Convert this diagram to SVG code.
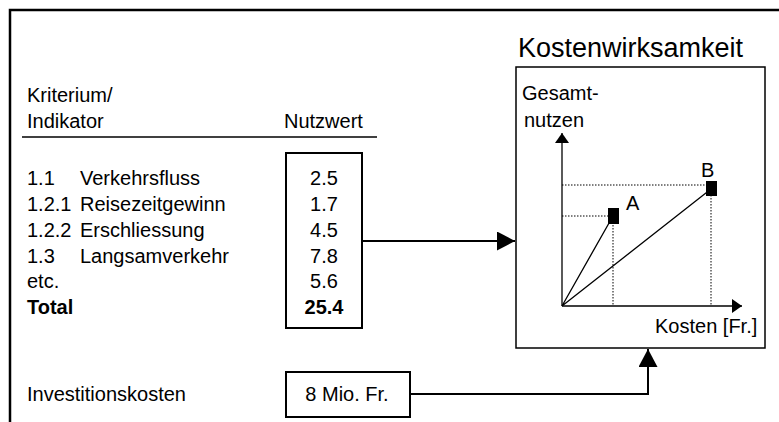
<svg xmlns="http://www.w3.org/2000/svg" width="779" height="422" viewBox="0 0 779 422">
<style>
text{font-family:"Liberation Sans",Arial,sans-serif;font-size:20px;fill:#000}
.b{font-weight:bold}
.m{text-anchor:middle}
.box{fill:#fff;stroke:#000;stroke-width:2}
.ln{fill:none;stroke:#000;stroke-width:2}
.thin{fill:none;stroke:#000;stroke-width:1.3}
.dot{fill:none;stroke:#000;stroke-width:1;stroke-dasharray:1.5 1.5}
</style>
<defs>
<marker id="ah" viewBox="0 0 18 19" refX="18" refY="9.5" markerWidth="18" markerHeight="19" markerUnits="userSpaceOnUse" orient="auto">
<path d="M0,0 L18,9.5 L0,19 Z" fill="#000"/>
</marker>
<marker id="sh" viewBox="0 0 10 14" refX="10" refY="7" markerWidth="10" markerHeight="14" markerUnits="userSpaceOnUse" orient="auto">
<path d="M0,0 L10,7 L0,14 Z" fill="#000"/>
</marker>
</defs>
<rect width="779" height="422" fill="#fff"/>
<path d="M10,422 V10 H779" fill="none" stroke="#000" stroke-width="2.5"/>

<g id="header">
<text x="27" y="102">Kriterium/</text>
<text x="27" y="128">Indikator</text>
<text x="284" y="128">Nutzwert</text>
<line x1="22" y1="137" x2="377" y2="137" stroke="#000" stroke-width="1.3"/>
</g>

<g id="criteria">
<text x="27" y="185">1.1</text><text x="80" y="185">Verkehrsfluss</text>
<text x="27" y="211">1.2.1</text><text x="80" y="211">Reisezeitgewinn</text>
<text x="27" y="237">1.2.2</text><text x="80" y="237">Erschliessung</text>
<text x="27" y="263">1.3</text><text x="80" y="263">Langsamverkehr</text>
<text x="27" y="288">etc.</text>
<text x="27" y="314" class="b">Total</text>
</g>

<g id="nutzwert">
<rect class="box" x="286" y="153" width="76" height="175"/>
<text class="m" x="324" y="185">2.5</text>
<text class="m" x="324" y="211">1.7</text>
<text class="m" x="324" y="237">4.5</text>
<text class="m" x="324" y="263">7.8</text>
<text class="m" x="324" y="288">5.6</text>
<text class="m b" x="324" y="314">25.4</text>
</g>

<g id="investition">
<text x="27" y="401">Investitionskosten</text>
<rect class="box" x="286" y="372" width="124" height="45"/>
<text class="m" x="347" y="401">8 Mio. Fr.</text>
</g>

<g id="kostenwirksamkeit">
<text x="518" y="57" style="font-size:27px">Kostenwirksamkeit</text>
<rect x="516" y="67" width="249" height="281" fill="#fff" stroke="#000" stroke-width="1.5"/>
<text x="522" y="100">Gesamt-</text>
<text x="524" y="127">nutzen</text>
<text x="655" y="333">Kosten [Fr.]</text>
<path class="dot" d="M562,216 H613 V306 M562,185 H711 V306"/>
<path class="thin" d="M562,306 V133" marker-end="url(#sh)"/>
<path class="thin" d="M562,306 H742" marker-end="url(#sh)"/>
<path class="thin" d="M562,306 L613,216 M562,306 L711,189"/>
<rect x="608" y="208" width="11" height="16" fill="#000"/>
<rect x="706" y="181" width="11" height="15" fill="#000"/>
<text x="626" y="210">A</text>
<text x="701" y="177">B</text>
</g>

<g id="connectors">
<path class="ln" d="M362,241 H515" marker-end="url(#ah)"/>
<path class="ln" d="M410,394 H648 V349" marker-end="url(#ah)"/>
</g>
</svg>
